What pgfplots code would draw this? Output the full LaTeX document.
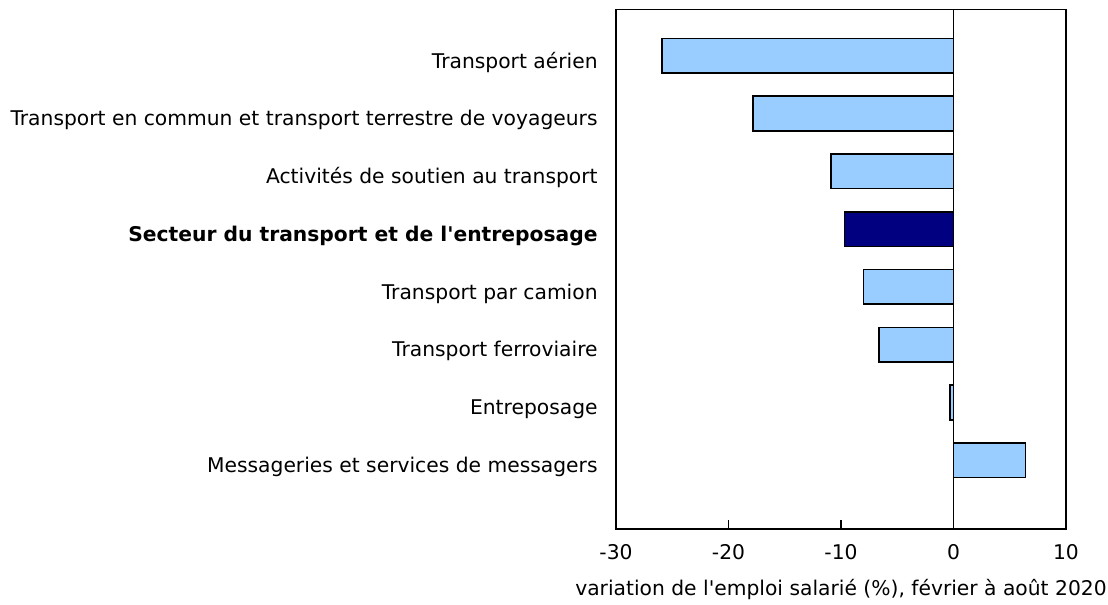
\documentclass[border=0pt]{standalone}
\usepackage{fontspec}
\setmainfont{DejaVu Sans}
\usepackage{pgfplots}
\pgfplotsset{compat=1.18}
\definecolor{barblue}{HTML}{99CCFF}
\definecolor{barnavy}{HTML}{000080}
\newcommand\lbl{\fontsize{15.2}{17}\selectfont}

\begin{document}
\begin{tikzpicture}
\begin{axis}[%
name=ax,
scale only axis,
width=337.5pt,
height=389.6pt,
xmin=-30, xmax=10,
ymin=-1.19, ymax=7.8,
xtick={-30,-20,-10,0,10},
xticklabels={-30,-20,-10,0,10},
ytick={0,1,2,3,4,5,6,7},
yticklabels={%
Messageries et services de messagers,
Entreposage,
Transport ferroviaire,
Transport par camion,
\textbf{Secteur du transport et de l\textquotesingle entreposage},
Activités de soutien au transport,
Transport en commun et transport terrestre de voyageurs,
Transport aérien},
tick align=inside,
xtick pos=bottom,
major tick length=6.75pt,
ytick style={draw=none},
axis line style={line width=1.1pt},
tick style={line width=1.1pt, black},
tick label style={font=\lbl},
yticklabel style={xshift=-3.5pt, yshift=-5pt},
xticklabel style={yshift=-8pt},
xlabel={variation de l\textquotesingle emploi salarié (\%), février à août 2020},
xlabel style={font=\lbl, yshift=-8pt},
extra x ticks={0},
extra x tick labels={},
extra x tick style={grid=major, major grid style={black, line width=1.2pt}},
xbar,
bar width=0.6,
]
\addplot[draw=black, line width=1.2pt, fill=barblue, bar shift=0pt] coordinates {
(6.4,0)
(-0.3,1)
(-6.6,2)
(-8.0,3)
(-10.9,5)
(-17.8,6)
(-25.9,7)
};
\addplot[draw=black, line width=1.2pt, fill=barnavy, bar shift=0pt] coordinates {
(-9.7,4)
};
\end{axis}
\pgfresetboundingbox
\path (ax.south west) ++(-462pt,-57pt) rectangle ++(831pt,453.75pt);
\end{tikzpicture}
\end{document}
